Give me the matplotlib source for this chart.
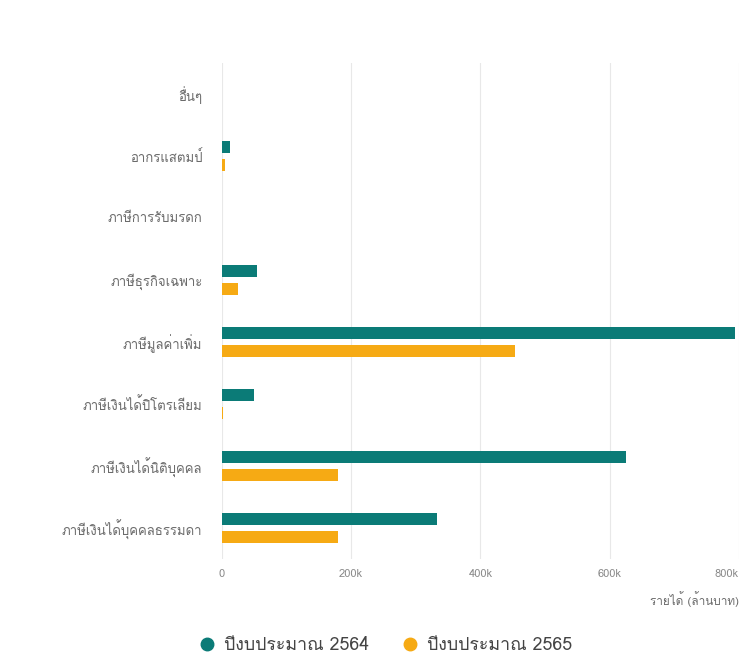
"""
Thai tax revenue by type, fiscal years 2564 vs 2565
"""
import numpy as np
import matplotlib
matplotlib.use("Agg")
import matplotlib.pyplot as plt
from matplotlib import font_manager
from matplotlib.ft2font import FT2Font
from matplotlib.lines import Line2D
from matplotlib.ticker import FuncFormatter

categories = [
    "อื่นๆ",
    "อากรแสตมป์",
    "ภาษีการรับมรดก",
    "ภาษีธุรกิจเฉพาะ",
    "ภาษีมูลค่าเพิ่ม",
    "ภาษีเงินได้ปิโตรเลียม",
    "ภาษีเงินได้นิติบุคคล",
    "ภาษีเงินได้บุคคลธรรมดา",
]
# million baht
rev_2564 = [0, 12000, 500, 54000, 794000, 50000, 625000, 333000]
rev_2565 = [0, 5000, 300, 25000, 453000, 1500, 180000, 180000]
series_names = ["ปีงบประมาณ 2564", "ปีงบประมาณ 2565"]
x_ticks = [0, 200000, 400000, 600000, 800000]
x_label = "รายได้ (ล้านบาท)"

TEAL = "#0b7b77"
ORANGE = "#f6aa14"
TEXT = "#6b6b6b"


def find_thai_font():
    """ Return the name of an installed family that has Thai glyphs """
    for f in font_manager.fontManager.ttflist:
        try:
            font = FT2Font(f.fname)
            if 0x0E01 in font.get_charmap():
                return f.name
        except Exception:
            continue
    return None


thai = find_thai_font()
families = [thai, "DejaVu Sans"] if thai else ["DejaVu Sans"]
plt.rcParams["font.family"] = families

fig = plt.figure(figsize=(7.42, 6.6), dpi=100)
ax = fig.add_axes([0.299, 0.153, 0.697, 0.752])

y = np.arange(len(categories))
h = 0.19
off = 0.145
ax.barh(y - off, rev_2564, height=h, color=TEAL, zorder=3)
ax.barh(y + off, rev_2565, height=h, color=ORANGE, zorder=3)

ax.set_ylim(len(categories) - 0.5, -0.5)
ax.set_xlim(0, 800000)
ax.set_yticks(y)
ax.set_yticklabels(categories, fontsize=9.5, color=TEXT)
ax.set_xticks(x_ticks)
ax.xaxis.set_major_formatter(FuncFormatter(lambda v, _: "0" if v == 0 else f"{int(v / 1000)}k"))
ax.tick_params(axis="x", labelsize=8, colors="#8a8a8a", length=0, pad=7)
ax.tick_params(axis="y", length=0, pad=14)
ax.get_xticklabels()[-1].set_horizontalalignment("right")
ax.grid(axis="x", color="#e8e8e8", linewidth=0.8, zorder=0)
for s in ax.spines.values():
    s.set_visible(False)

ax.set_xlabel(x_label, fontsize=8.5, color=TEXT, labelpad=9, loc="right")

handles = [
    Line2D([], [], marker="o", linestyle="", markersize=9, color=TEAL),
    Line2D([], [], marker="o", linestyle="", markersize=9, color=ORANGE),
]
fig.legend(handles, series_names, loc="center", bbox_to_anchor=(0.519, 0.022),
           ncol=2, frameon=False, fontsize=12.8, labelcolor="#444444",
           handlelength=1.0, handletextpad=0.5, columnspacing=1.75)

plt.savefig("out.png", dpi=100)
